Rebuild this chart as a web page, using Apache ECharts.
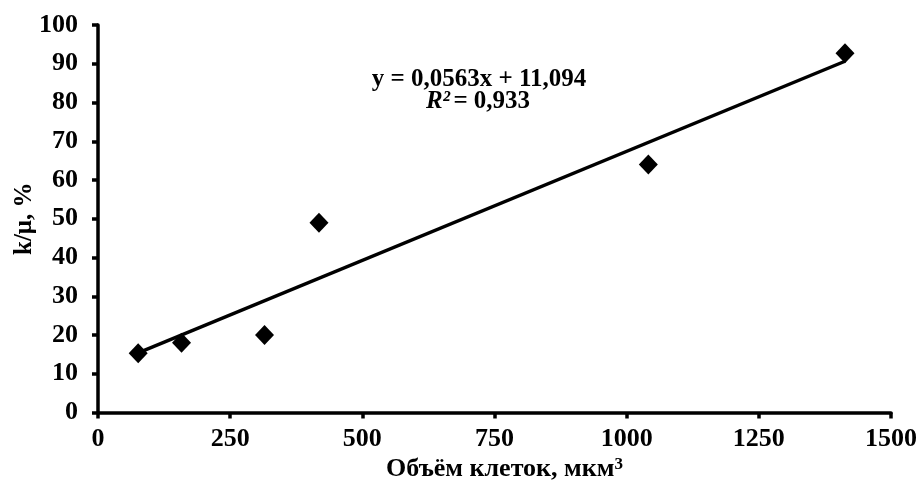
<!DOCTYPE html>
<html>
<head>
<meta charset="utf-8">
<script src="https://cdn.jsdelivr.net/npm/echarts@6/dist/echarts.min.js"></script>
<style>
html,body{margin:0;padding:0;background:#fff;}
#chart{width:919px;height:488px;}
</style>
</head>
<body>
<div id="chart"></div>
<script>
// Data
var cellVolume = [76, 158, 315, 418, 1041, 1413];   // Объём клеток, мкм³
var kMu = [15.3, 18, 20, 49, 64, 92.7];             // k/μ, %
var xTicks = [0, 250, 500, 750, 1000, 1250, 1500];
var yTicks = [0, 10, 20, 30, 40, 50, 60, 70, 80, 90, 100];
var trendSlope = 0.0563;
var trendIntercept = 11.094;
var rSquared = '0,933';

var FONT = '"Liberation Serif", "Times New Roman", serif';

var points = cellVolume.map(function (v, i) { return [v, kMu[i]]; });
var xMinData = Math.min.apply(null, cellVolume);
var xMaxData = Math.max.apply(null, cellVolume);
var trend = [
  [xMinData, trendSlope * xMinData + trendIntercept],
  [xMaxData, trendSlope * xMaxData + trendIntercept]
];

var chart = echarts.init(document.getElementById('chart'));
chart.setOption({
  animation: false,
  backgroundColor: '#ffffff',
  grid: { left: 98, right: 28, top: 25, bottom: 75.5, containLabel: false, outerBoundsMode: 'none' },
  xAxis: {
    type: 'value',
    min: xTicks[0], max: xTicks[xTicks.length - 1], interval: 250,
    name: 'Объём клеток, мкм{sup|3}',
    nameLocation: 'middle',
    nameGap: 44,
    nameMoveOverlap: false,
    nameTextStyle: {
      fontFamily: FONT, fontWeight: 'bold', fontSize: 26, color: '#000', padding: [0, 0, 0, 20],
      rich: { sup: { fontFamily: FONT, fontWeight: 'bold', fontSize: 17, color: '#000', verticalAlign: 'top', padding: [0, 0, 8, 0] } }
    },
    axisLine: { show: true, onZero: false, lineStyle: { color: '#000', width: 3.5 } },
    axisTick: { show: true, length: 6, inside: false, lineStyle: { color: '#000', width: 3.5 } },
    axisLabel: {
      fontFamily: FONT, fontWeight: 'bold', fontSize: 26, color: '#000', margin: 14,
      formatter: function (v) { return String(v); }
    },
    splitLine: { show: false }
  },
  yAxis: {
    type: 'value',
    min: yTicks[0], max: yTicks[yTicks.length - 1], interval: 10,
    name: 'k/μ, %',
    nameLocation: 'middle',
    nameGap: 61,
    nameMoveOverlap: false,
    nameTextStyle: { fontFamily: FONT, fontWeight: 'bold', fontSize: 25, color: '#000' },
    axisLine: { show: true, onZero: false, lineStyle: { color: '#000', width: 3.5 } },
    axisTick: { show: true, length: 6, inside: false, lineStyle: { color: '#000', width: 3.5 } },
    axisLabel: {
      fontFamily: FONT, fontWeight: 'bold', fontSize: 26, color: '#000', margin: 20,
      formatter: function (v) { return String(v); }
    },
    splitLine: { show: false }
  },
  series: [
    {
      type: 'line',
      data: trend,
      symbol: 'none',
      lineStyle: { color: '#000', width: 3.5 },
      z: 2,
      silent: true
    },
    {
      type: 'scatter',
      data: points,
      symbol: 'diamond',
      symbolSize: [19, 20],
      itemStyle: { color: '#000', opacity: 1 },
      z: 3
    }
  ],
  graphic: [
    {
      type: 'text',
      x: 479, y: 67,
      style: {
        text: 'y = 0,0563x + 11,094',
        font: 'bold 25px ' + FONT,
        fill: '#000',
        align: 'center',
        verticalAlign: 'top'
      }
    },
    {
      type: 'text',
      x: 478, y: 89,
      style: {
        text: '{i|R²} {b|= ' + rSquared + '}',
        align: 'center',
        verticalAlign: 'top',
        rich: {
          i: { fontFamily: FONT, fontStyle: 'italic', fontWeight: 'bold', fontSize: 25, fill: '#000', color: '#000' },
          b: { fontFamily: FONT, fontWeight: 'bold', fontSize: 25, fill: '#000', color: '#000' }
        }
      }
    }
  ]
});
</script>
</body>
</html>
